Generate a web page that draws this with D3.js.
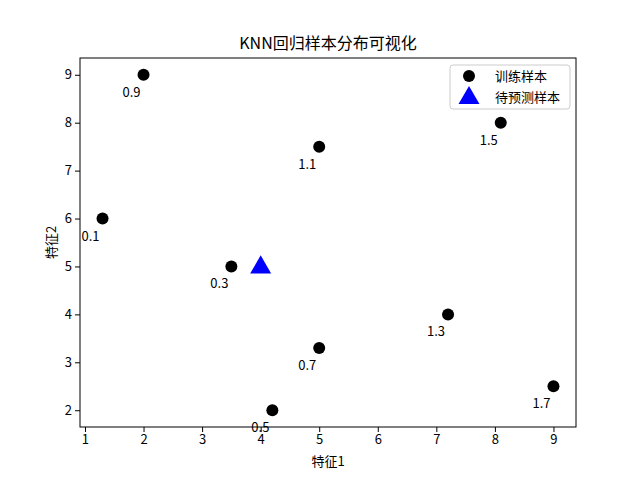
<!DOCTYPE html>
<html><head><meta charset="utf-8">
<script src="https://cdn.jsdelivr.net/npm/d3@7"></script>
<style>body{margin:0;background:#fff}svg{display:block}text{font-family:"Noto Sans CJK SC",sans-serif}</style>
</head><body><svg id="c" width="640" height="480"></svg>
<script>
const trainX = [1.3, 2, 3.5, 4.2, 5, 5, 7.2, 8.1, 9];
const trainY = [6, 9, 5, 2, 7.5, 3.3, 4, 8, 2.5];
const trainLabels = ["0.1", "0.9", "0.3", "0.5", "1.1", "0.7", "1.3", "1.5", "1.7"];
const queryX = [4];
const queryY = [5];
const xTicks = [1, 2, 3, 4, 5, 6, 7, 8, 9];
const yTicks = [2, 3, 4, 5, 6, 7, 8, 9];
const title = "KNN回归样本分布可视化";
const xLabel = "特征1", yLabel = "特征2";
const legendNames = ["训练样本", "待预测样本"];

const svg = d3.select("#c");
const L = 80, R = 576, T = 58, B = 427;
const x = d3.scaleLinear().domain([0.915, 9.385]).range([L, R]);
const y = d3.scaleLinear().domain([1.65, 9.35]).range([B, T]);

svg.append("g").attr("transform", `translate(0,${B})`)
  .call(d3.axisBottom(x).tickValues(xTicks).tickFormat(d3.format("d")).tickSize(5).tickPadding(3))
  .call(g => { g.select(".domain").remove(); g.selectAll("text").attr("font-size", 13).attr("fill", "#000"); g.selectAll("line").attr("stroke", "#000"); });
svg.append("g").attr("transform", `translate(${L},0)`)
  .call(d3.axisLeft(y).tickValues(yTicks).tickFormat(d3.format("d")).tickSize(5).tickPadding(3))
  .call(g => { g.select(".domain").remove(); g.selectAll("text").attr("font-size", 13).attr("fill", "#000"); g.selectAll("line").attr("stroke", "#000"); });

svg.append("rect").attr("x", L).attr("y", T).attr("width", R - L).attr("height", B - T)
  .attr("fill", "none").attr("stroke", "#000").attr("stroke-width", 1);

const pts = trainX.map((v, i) => ({x: v, y: trainY[i], l: trainLabels[i]}));
svg.append("g").selectAll("circle").data(pts).join("circle")
  .attr("cx", d => x(d.x)).attr("cy", d => y(d.y)).attr("r", 6).attr("fill", "#000");
svg.append("g").selectAll("text").data(pts).join("text")
  .attr("x", d => x(d.x) - 12).attr("y", d => y(d.y) + 22)
  .attr("text-anchor", "middle").attr("font-size", 13).text(d => d.l);

const tri = d3.symbol().type(d3.symbolTriangle).size(190);
svg.append("g").selectAll("path").data(queryX.map((v, i) => ({x: v, y: queryY[i]}))).join("path")
  .attr("d", tri).attr("transform", d => `translate(${x(d.x)},${y(d.y) + 1})`).attr("fill", "#0000ff");

svg.append("text").attr("x", (L + R) / 2).attr("y", 49).attr("text-anchor", "middle")
  .attr("font-size", 16).text(title);
svg.append("text").attr("x", (L + R) / 2).attr("y", 466).attr("text-anchor", "middle")
  .attr("font-size", 13).text(xLabel);
svg.append("text").attr("transform", `translate(56,${(T + B) / 2}) rotate(-90)`).attr("text-anchor", "middle")
  .attr("font-size", 13).text(yLabel);

const lg = svg.append("g");
lg.append("rect").attr("x", 450).attr("y", 65).attr("width", 120).attr("height", 44).attr("rx", 3)
  .attr("fill", "#fff").attr("fill-opacity", 0.8).attr("stroke", "#ccc");
lg.append("circle").attr("cx", 469).attr("cy", 76).attr("r", 6).attr("fill", "#000");
lg.append("path").attr("d", tri).attr("transform", "translate(469,98)").attr("fill", "#0000ff");
lg.selectAll("text.l").data(legendNames).join("text").attr("class", "l")
  .attr("x", 495).attr("y", (d, i) => 81 + i * 21).attr("font-size", 13).text(d => d);
</script></body></html>
